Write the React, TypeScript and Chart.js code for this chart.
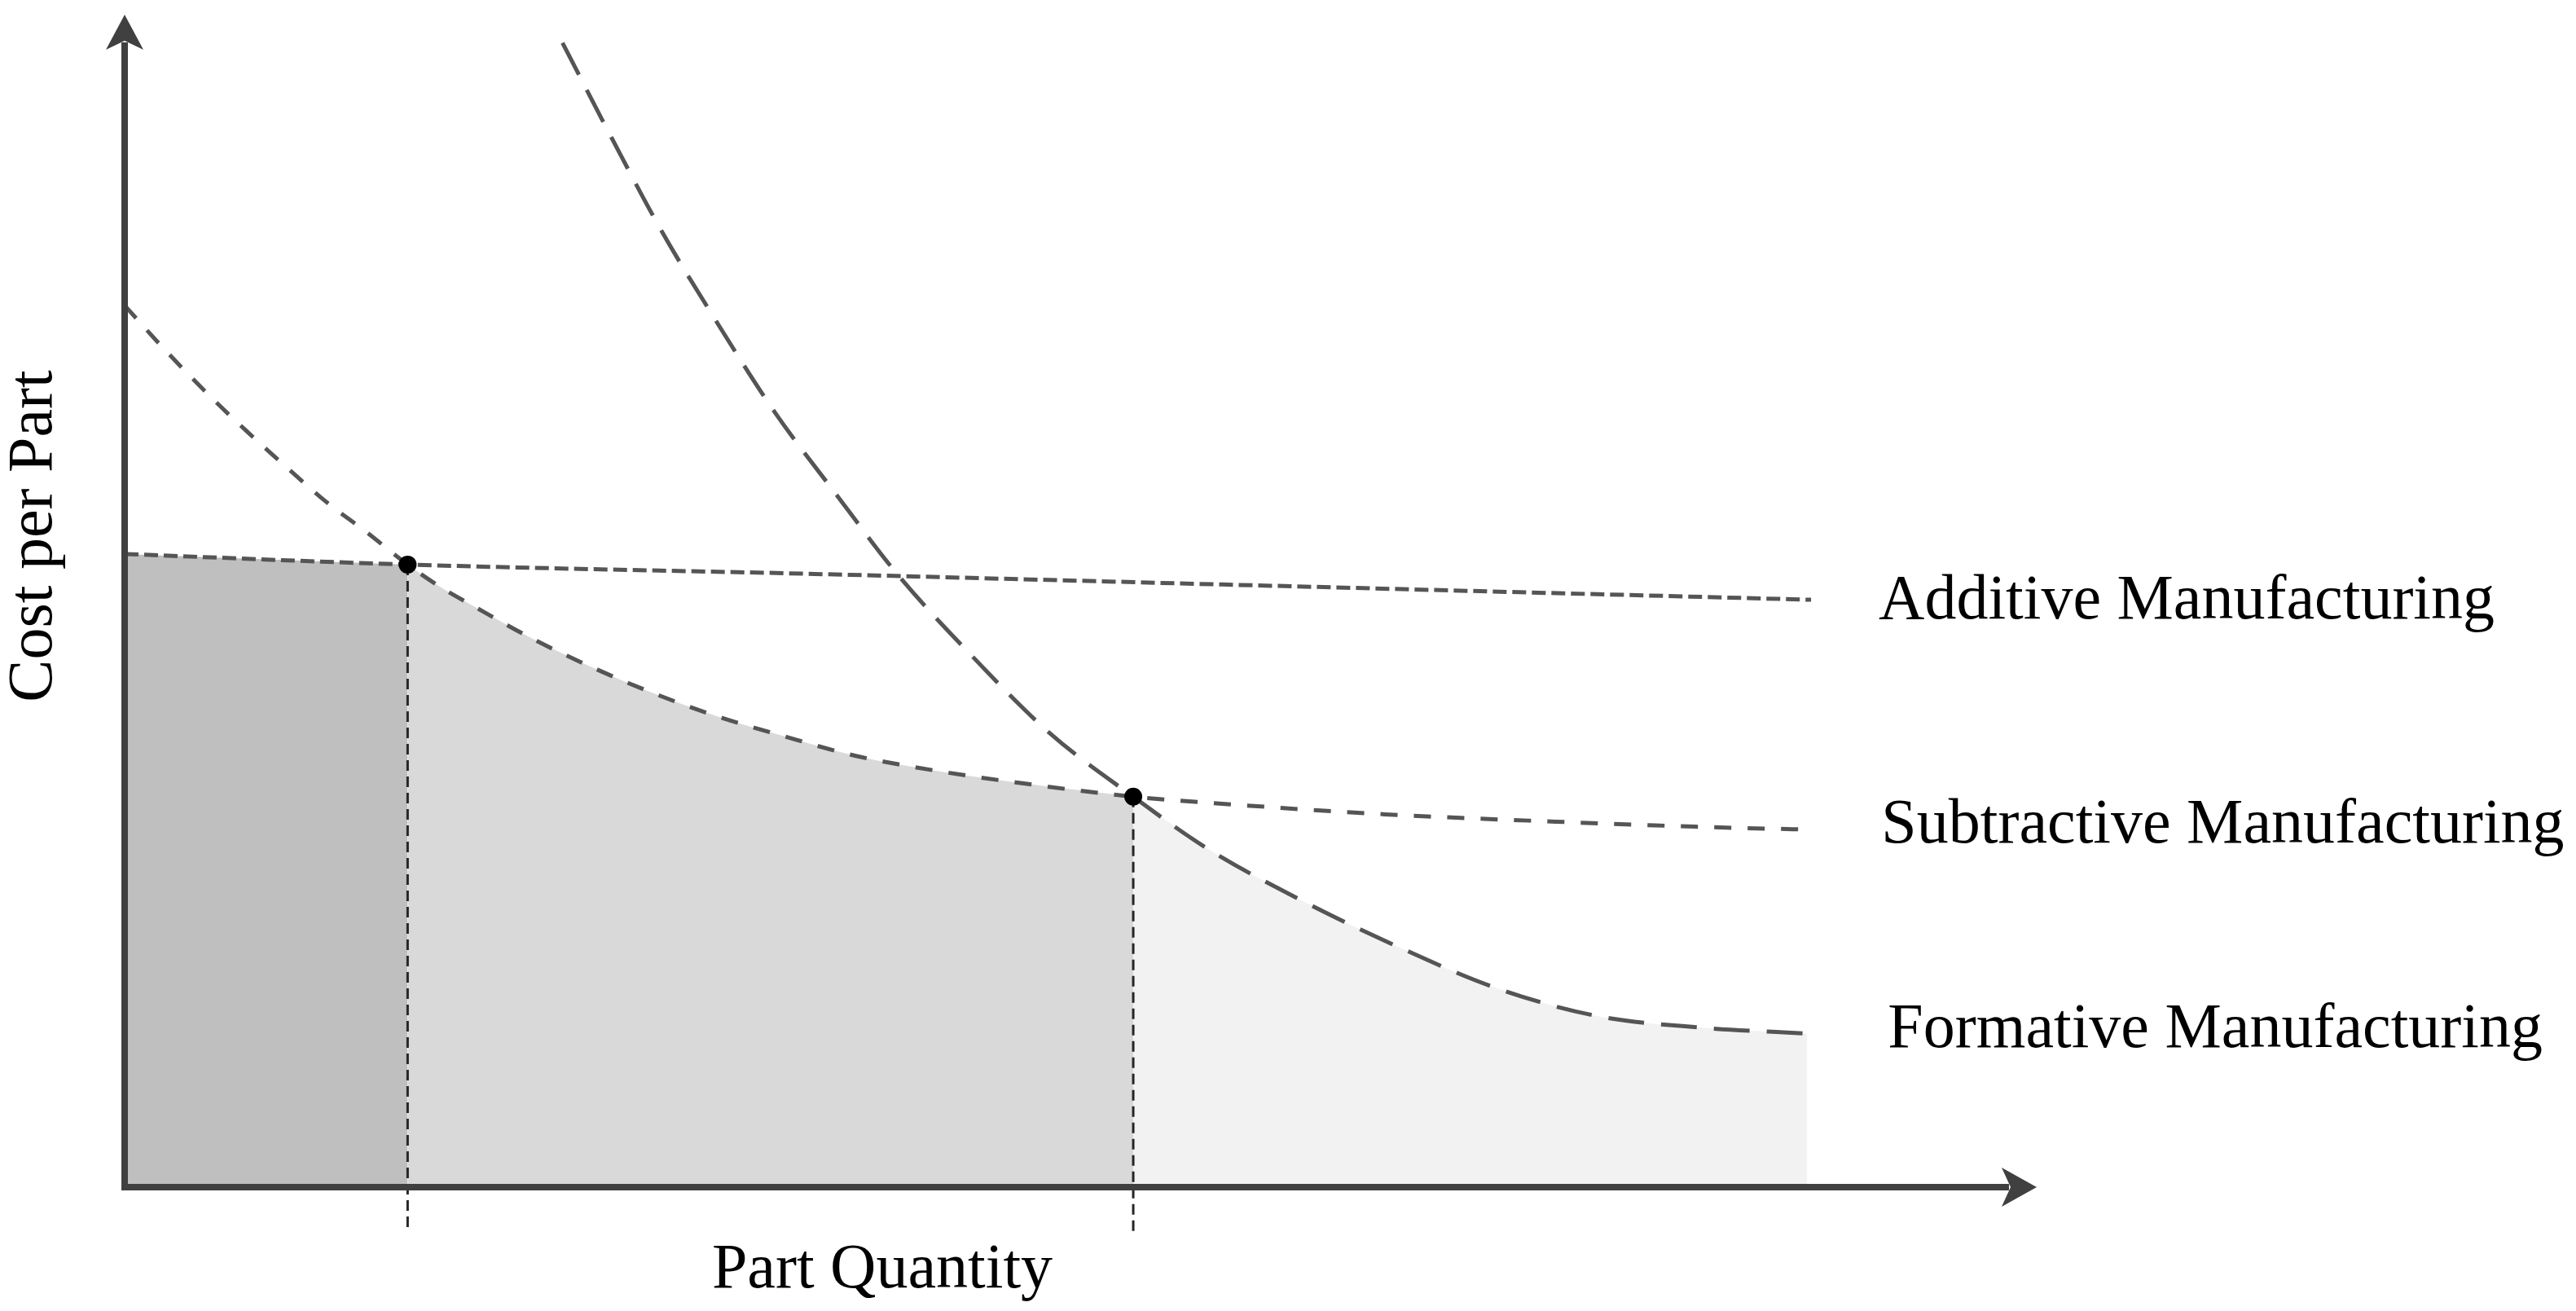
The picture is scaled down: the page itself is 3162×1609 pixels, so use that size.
import { useEffect, useRef } from 'react';
import { Chart, registerables } from 'chart.js';

Chart.register(...registerables);

// ---- data (abstract units: quantity 0–100, cost 0–100) ----
const additiveQty = [0, 14.8, 36.1, 57.4, 88.2];
const additiveCost = [54.0, 53.1, 52.3, 51.4, 50.1];

const subtractiveQty = [0, 2.0, 4.5, 6.3, 8.4, 10.5, 12.7, 14.8, 16.6, 18.2, 21.3, 24.5, 27.7, 31.1, 34.4, 38.2, 42.5, 46.7, 52.75, 57.4, 65.9, 74.4, 83.0, 88.0];
const subtractiveCost = [75.2, 71.6, 67.4, 64.6, 61.5, 58.5, 55.8, 53.1, 51.1, 49.6, 46.8, 44.3, 42.1, 40.1, 38.5, 36.8, 35.5, 34.5, 33.3, 32.7, 31.8, 31.2, 30.7, 30.5];

const formativeQty = [22.9, 25.5, 28.1, 31.0, 34.0, 37.3, 40.4, 44.2, 48.4, 52.75, 56.7, 61.5, 66.6, 71.7, 77.0, 82.5, 88.0];
const formativeCost = [97.6, 89.4, 81.5, 73.7, 66.1, 58.9, 52.3, 45.5, 38.7, 33.3, 28.8, 24.5, 20.5, 17.0, 14.6, 13.6, 13.1];

const breakEvenQty = [14.8, 52.75];
const breakEvenCost = [53.1, 33.3];
const dropLineBottom = -3.9;

const seriesLabels = ['Additive Manufacturing', 'Subtractive Manufacturing', 'Formative Manufacturing'];
const xAxisTitle = 'Part Quantity';
const yAxisTitle = 'Cost per Part';
const axisMax = 100;

type P = { x: number; y: number };
const pts = (xs: number[], ys: number[]): P[] => xs.map((x, i) => ({ x, y: ys[i] }));
const between = (p: P[], a: number, b: number) => p.filter((q) => q.x >= a - 1e-9 && q.x <= b + 1e-9);

const FONT = '78px "Liberation Serif", "Times New Roman", serif';

const overlay = {
  id: 'overlay',
  afterDatasetsDraw(chart: any) {
    const { ctx } = chart;
    const xs = chart.scales.x;
    const ys = chart.scales.y;
    const x0 = xs.getPixelForValue(0);
    const y0 = ys.getPixelForValue(0);
    const xTip = xs.getPixelForValue(axisMax);
    const yTip = ys.getPixelForValue(axisMax);
    ctx.save();
    ctx.strokeStyle = '#404040';
    ctx.fillStyle = '#404040';
    ctx.lineWidth = 8;
    ctx.lineCap = 'butt';
    // y axis
    ctx.beginPath();
    ctx.moveTo(x0, y0 + 4);
    ctx.lineTo(x0, yTip + 34);
    ctx.stroke();
    ctx.beginPath();
    ctx.moveTo(x0, yTip);
    ctx.lineTo(x0 + 23, yTip + 43);
    ctx.lineTo(x0, yTip + 32);
    ctx.lineTo(x0 - 23, yTip + 43);
    ctx.closePath();
    ctx.fill();
    // x axis
    ctx.beginPath();
    ctx.moveTo(x0 - 4, y0);
    ctx.lineTo(xTip - 34, y0);
    ctx.stroke();
    ctx.beginPath();
    ctx.moveTo(xTip, y0);
    ctx.lineTo(xTip - 43, y0 - 24);
    ctx.lineTo(xTip - 32, y0);
    ctx.lineTo(xTip - 43, y0 + 24);
    ctx.closePath();
    ctx.fill();
    ctx.restore();
  },
  afterDraw(chart: any) {
    const { ctx } = chart;
    const xs = chart.scales.x;
    const ys = chart.scales.y;
    ctx.save();
    ctx.fillStyle = '#000';
    ctx.font = FONT;
    ctx.textBaseline = 'alphabetic';
    ctx.textAlign = 'left';
    const ends = [
      [additiveQty[additiveQty.length - 1], additiveCost[additiveCost.length - 1]],
      [subtractiveQty[subtractiveQty.length - 1], subtractiveCost[subtractiveCost.length - 1]],
      [formativeQty[formativeQty.length - 1], formativeCost[formativeCost.length - 1]],
    ];
    const offs = [[83, 23], [91, 16], [99, 17]];
    seriesLabels.forEach((t, i) => {
      const px = xs.getPixelForValue(ends[i][0]) + offs[i][0];
      const py = ys.getPixelForValue(ends[i][1]) + offs[i][1];
      ctx.fillText(t, px, py);
    });
    // x title
    ctx.textAlign = 'center';
    ctx.fillText(xAxisTitle, 1083, 1580);
    // y title
    ctx.translate(63, 658);
    ctx.rotate(-Math.PI / 2);
    ctx.fillText(yAxisTitle, 0, 0);
    ctx.restore();
  },
};

export default function App() {
  const ref = useRef<HTMLCanvasElement>(null);
  useEffect(() => {
    if (!ref.current) return;
    const additive = pts(additiveQty, additiveCost);
    const subtractive = pts(subtractiveQty, subtractiveCost);
    const formative = pts(formativeQty, formativeCost);
    const fillBase = {
      fill: 'origin',
      borderColor: 'rgba(0,0,0,0)',
      borderWidth: 0,
      pointRadius: 0,
      cubicInterpolationMode: 'monotone',
      order: 10,
    };
    const lineBase = {
      fill: false,
      borderColor: '#555555',
      borderWidth: 5,
      pointRadius: 0,
      cubicInterpolationMode: 'monotone',
      order: 5,
    };
    const dropBase = {
      fill: false,
      borderColor: '#262626',
      borderWidth: 3,
      borderDash: [13, 7],
      pointRadius: 0,
      clip: false,
      order: 4,
    };
    const chart = new Chart(ref.current, {
      type: 'line',
      data: {
        datasets: [
          { ...fillBase, label: 'dark', data: between(additive, 0, breakEvenQty[0]), backgroundColor: '#bfbfbf' },
          { ...fillBase, label: 'mid', data: between(subtractive, breakEvenQty[0], breakEvenQty[1]), backgroundColor: '#d9d9d9' },
          { ...fillBase, label: 'light', data: between(formative, breakEvenQty[1], Infinity), backgroundColor: '#f2f2f2' },
          { ...lineBase, label: seriesLabels[0], data: additive, borderDash: [17, 7] },
          { ...lineBase, label: seriesLabels[1], data: subtractive, borderDash: [21, 20] },
          { ...lineBase, label: seriesLabels[2], data: formative, borderDash: [44, 21] },
          { ...dropBase, label: 'drop1', data: [{ x: breakEvenQty[0], y: breakEvenCost[0] }, { x: breakEvenQty[0], y: dropLineBottom }] },
          { ...dropBase, label: 'drop2', data: [{ x: breakEvenQty[1], y: breakEvenCost[1] }, { x: breakEvenQty[1], y: dropLineBottom }] },
          {
            label: 'break-even',
            data: pts(breakEvenQty, breakEvenCost),
            showLine: false,
            pointRadius: 11,
            pointBackgroundColor: '#000',
            pointBorderWidth: 0,
            pointBorderColor: '#000',
            order: 1,
          },
        ] as any,
      },
      options: {
        animation: false,
        responsive: false,
        events: [],
        layout: { padding: { left: 153, right: 662, top: 18, bottom: 152 } },
        scales: {
          x: { type: 'linear', min: 0, max: axisMax, display: false },
          y: { type: 'linear', min: 0, max: axisMax, display: false },
        },
        plugins: { legend: { display: false }, tooltip: { enabled: false } },
      } as any,
      plugins: [overlay],
    });
    return () => chart.destroy();
  }, []);
  return (
    <div style={{ position: 'absolute', left: 0, top: 0, width: 3162, height: 1609, background: '#fff' }}>
      <canvas ref={ref} width={3162} height={1609} style={{ display: 'block' }} />
    </div>
  );
}
